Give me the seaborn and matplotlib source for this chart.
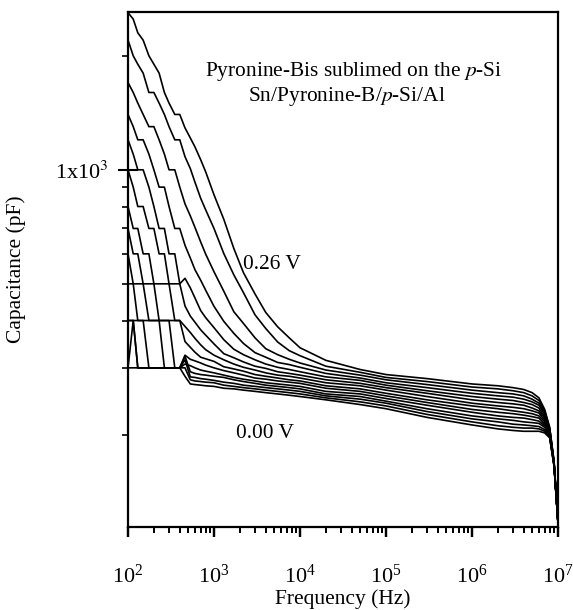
import numpy as np
import pandas as pd
import matplotlib
matplotlib.use("Agg")
import matplotlib.pyplot as plt
import matplotlib.ticker as mticker
import matplotlib.transforms as mtransforms
import seaborn as sns

# frequency grid (Hz)
freq = [100, 115, 130, 150, 175, 200, 230, 265, 300, 350, 400, 460, 530, 600, 700, 800,
        1e3, 1.3e3, 1.7e3, 2.2e3, 3e3, 4e3, 5.5e3, 7.5e3, 1e4, 2e4, 5e4, 1e5, 3e5, 1e6,
        2e6, 3e6, 4e6, 5e6, 6e6, 7e6, 8e6, 9e6, 1e7]

# bias voltages, 0.00 V ... 0.26 V
bias = [0.00, 0.02, 0.04, 0.06, 0.08, 0.10, 0.12, 0.14, 0.16, 0.18, 0.20, 0.22, 0.24, 0.26]

# capacitance (pF), one row per bias
cap_000 = [300, 300, 300, 300, 300, 300, 300, 300, 300, 300, 300, 285, 272, 271, 270, 269,
           268, 265, 264, 262, 260, 258, 256, 254, 252, 247, 240, 234, 222, 212,
           207, 205, 204, 204, 204, 202, 196, 165, 117]
cap_002 = [300, 400, 300, 300, 300, 300, 300, 300, 300, 300, 300, 300, 279, 277, 276, 275,
           274, 270, 268, 266, 264, 262, 260, 258, 256, 250, 244, 238, 226, 216,
           211, 209, 208, 208, 207, 204, 197, 165, 117]
cap_004 = [400, 400, 300, 300, 300, 300, 300, 300, 300, 300, 300, 315, 284, 283, 281, 280,
           278, 275, 273, 270, 268, 266, 264, 262, 260, 253, 248, 242, 230, 220,
           216, 213, 212, 211, 210, 206, 198, 166, 117]
cap_006 = [400, 400, 400, 400, 300, 300, 300, 300, 300, 300, 300, 322, 293, 290, 288, 287,
           285, 283, 279, 276, 273, 270, 268, 266, 264, 256, 252, 245, 234, 224,
           220, 218, 216, 215, 214, 209, 199, 166, 117]
cap_008 = [500, 500, 400, 400, 400, 400, 400, 300, 300, 300, 300, 307, 304, 300, 296, 294,
           291, 287, 283, 280, 277, 274, 272, 270, 268, 260, 256, 249, 239, 229,
           224, 222, 221, 219, 217, 211, 200, 166, 117]
cap_010 = [600, 500, 500, 500, 400, 400, 400, 400, 400, 300, 300, 324, 316, 313, 309, 305,
           300, 295, 291, 287, 282, 280, 277, 275, 273, 265, 260, 253, 243, 233,
           229, 227, 225, 223, 221, 213, 201, 167, 117]
cap_012 = [700, 600, 600, 500, 500, 500, 400, 400, 400, 400, 400, 352, 340, 330, 320, 317,
           312, 302, 298, 294, 288, 285, 282, 279, 277, 269, 264, 257, 247, 238,
           234, 231, 229, 227, 224, 216, 202, 167, 117]
cap_014 = [800, 700, 700, 600, 600, 500, 500, 500, 500, 400, 400, 386, 372, 359, 345, 335,
           324, 315, 307, 301, 296, 291, 287, 285, 282, 274, 269, 262, 252, 242,
           238, 236, 234, 231, 228, 218, 203, 167, 117]
cap_016 = [1000, 900, 800, 800, 700, 700, 600, 600, 500, 500, 500, 437, 411, 396, 378, 366,
           347, 327, 319, 311, 303, 299, 293, 290, 287, 279, 273, 266, 257, 247,
           243, 241, 239, 235, 231, 221, 204, 168, 117]
cap_018 = [1200, 1100, 1000, 1000, 900, 800, 700, 700, 600, 600, 500, 517, 488, 459, 425, 407,
           383, 356, 336, 325, 315, 307, 301, 297, 293, 284, 278, 270, 261, 252,
           248, 246, 243, 240, 235, 223, 205, 168, 117]
cap_020 = [1400, 1300, 1200, 1200, 1100, 1000, 900, 900, 800, 700, 700, 632, 585, 545, 511, 481,
           436, 398, 370, 348, 329, 320, 310, 306, 301, 290, 282, 274, 266, 257,
           253, 251, 248, 244, 239, 226, 206, 168, 117]
cap_022 = [1700, 1600, 1500, 1400, 1300, 1300, 1200, 1100, 1000, 1000, 900, 813, 756, 705, 645, 599,
           538, 478, 422, 393, 360, 337, 325, 316, 309, 296, 287, 279, 271, 262,
           258, 256, 253, 248, 242, 228, 207, 169, 117]
cap_024 = [2200, 2000, 1900, 1800, 1600, 1600, 1500, 1400, 1300, 1200, 1200, 1083, 1008, 928, 841, 784,
           700, 601, 528, 474, 414, 381, 351, 333, 323, 303, 292, 283, 276, 267,
           264, 261, 258, 253, 246, 231, 208, 169, 117]
cap_026 = [2600, 2500, 2300, 2200, 2000, 1900, 1800, 1600, 1500, 1400, 1400, 1290, 1214, 1150, 1063, 988,
           859, 740, 620, 535, 470, 420, 385, 360, 339, 314, 297, 288, 281, 272,
           269, 266, 263, 258, 250, 233, 209, 170, 117]

curves = [cap_000, cap_002, cap_004, cap_006, cap_008, cap_010, cap_012,
          cap_014, cap_016, cap_018, cap_020, cap_022, cap_024, cap_026]

rows = []
for v, c in zip(bias, curves):
    for f, y in zip(freq, c):
        rows.append({"freq": f, "cap": y, "bias": v})
df = pd.DataFrame(rows)

sns.set_style("ticks")
plt.rcParams.update({
    "font.family": ["Liberation Serif", "DejaVu Serif"],
    "mathtext.fontset": "stix",
    "text.color": "black",
    "axes.labelcolor": "black",
    "xtick.color": "black",
    "ytick.color": "black",
    "axes.axisbelow": False,
})

fig = plt.figure(figsize=(5.73, 6.10), dpi=100)
ax = fig.add_axes([128 / 573, 1 - 527 / 610, 430 / 573, 515 / 610])

sns.lineplot(data=df, x="freq", y="cap", hue="bias", palette=["black"] * len(bias),
             estimator=None, legend=False, linewidth=1.2, ax=ax)

ax.set_xscale("log")
ax.set_yscale("log")
xlim = (1e2, 1e7)
ax.set_xlim(*xlim)
ax.set_ylim(114, 2610)

for s in ax.spines.values():
    s.set_visible(True)
    s.set_linewidth(1.6)
    s.set_color("black")

ax.xaxis.set_major_locator(mticker.LogLocator(base=10))
ax.xaxis.set_minor_locator(mticker.LogLocator(base=10, subs=np.arange(2, 10)))
ax.xaxis.set_major_formatter(mticker.LogFormatterMathtext())
ax.xaxis.set_minor_formatter(mticker.NullFormatter())
ax.yaxis.set_major_locator(mticker.FixedLocator([1000]))
ax.yaxis.set_minor_locator(mticker.FixedLocator([200, 300, 400, 500, 600, 700, 800, 900, 2000]))
ax.yaxis.set_major_formatter(mticker.FixedFormatter(["1x10$^3$"]))
ax.yaxis.set_minor_formatter(mticker.NullFormatter())

ax.tick_params(axis="x", which="both", bottom=True, top=False)
ax.tick_params(axis="x", which="major", direction="out", length=7, width=1.6, labelsize=16, pad=8)
ax.tick_params(axis="x", which="minor", direction="out", length=4.5, width=1.3)
ax.tick_params(axis="y", which="major", direction="inout", length=14, width=1.5, labelsize=16, pad=7)
ax.tick_params(axis="y", which="minor", direction="out", length=4, width=1.2)

# bottom tick marks drawn again from the axis' own locators, on top of everything
xtr = ax.get_xaxis_transform()
maj = [t for t in ax.xaxis.get_majorticklocs() if xlim[0] <= t <= xlim[1]]
mnr = [t for t in ax.xaxis.get_minorticklocs() if xlim[0] <= t <= xlim[1]]
ax.vlines(maj, -10 / 515, 0, transform=xtr, colors="black", linewidth=1.6,
          clip_on=False, zorder=10)
ax.vlines(mnr, -6 / 515, 0, transform=xtr, colors="black", linewidth=1.3,
          clip_on=False, zorder=10)

# push the x tick labels further down, as in the original figure
offset = mtransforms.ScaledTranslation(0, -12 / 72, fig.dpi_scale_trans)
for lbl in ax.xaxis.get_majorticklabels():
    lbl.set_transform(lbl.get_transform() + offset)

ax.set_xlabel("Frequency (Hz)", fontsize=15.5)
ax.set_ylabel("Capacitance (pF)", fontsize=15.5)
ax.xaxis.set_label_coords(0.5, -0.120)
ax.yaxis.set_label_coords(-0.237, 0.5)

ax.text(0.526, 0.885, "Pyronine-Bis sublimed on the $p$-Si", transform=ax.transAxes,
        ha="center", va="center", fontsize=15.4)
ax.text(0.509, 0.835, "Sn/Pyronine-B/$p$-Si/Al", transform=ax.transAxes,
        ha="center", va="center", fontsize=15.4)
ax.text(0.267, 0.509, "0.26 V", transform=ax.transAxes, ha="left", va="center", fontsize=15.4)
ax.text(0.251, 0.1825, "0.00 V", transform=ax.transAxes, ha="left", va="center", fontsize=15.4)

fig.savefig("out.png", dpi=100)
